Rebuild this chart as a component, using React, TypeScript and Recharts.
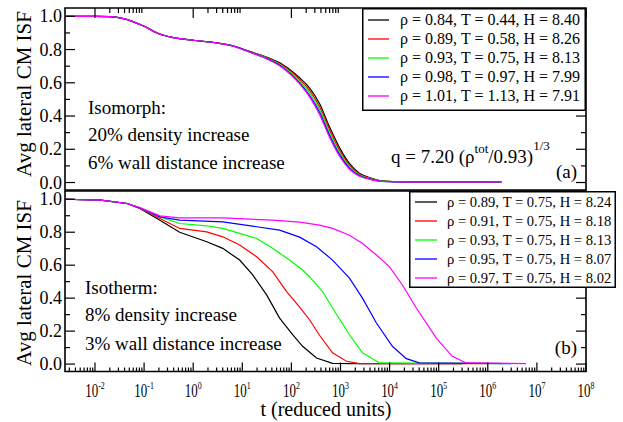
import React from 'react';
import { LineChart, Line, XAxis, YAxis, ReferenceArea, Legend } from 'recharts';

const FONT = '"Liberation Serif", "Times New Roman", serif';
const COLORS = ['#000000', '#ff0000', '#00ff00', '#0000ff', '#ff00ff'];

// (a) isomorph runs, one shared time grid
const isoLabels = [
  'ρ = 0.84, T = 0.44, H = 8.40',
  'ρ = 0.89, T = 0.58, H = 8.26',
  'ρ = 0.93, T = 0.75, H = 8.13',
  'ρ = 0.98, T = 0.97, H = 7.99',
  'ρ = 1.01, T = 1.13, H = 7.91',
];
const isoT = [0.00245, 0.01, 0.02, 0.04, 0.1, 0.2, 0.4, 1, 3, 6.4, 14, 31, 66, 147, 234, 374, 597, 955, 1520, 2430, 3880, 7100, 2e4, 1e5, 1.9e6];
const iso084 = [1.0, 1.0, 0.998, 0.985, 0.94, 0.895, 0.872, 0.856, 0.84, 0.823, 0.789, 0.755, 0.71, 0.63, 0.57, 0.475, 0.335, 0.21, 0.115, 0.056, 0.03, 0.01, 0.004, 0.003, 0.003];
const iso089 = [1.0, 1.0, 0.998, 0.985, 0.94, 0.895, 0.872, 0.856, 0.84, 0.822, 0.788, 0.752, 0.705, 0.62, 0.555, 0.457, 0.318, 0.195, 0.105, 0.051, 0.027, 0.009, 0.004, 0.003, 0.003];
const iso093 = [1.0, 1.0, 0.998, 0.985, 0.94, 0.895, 0.872, 0.856, 0.841, 0.823, 0.787, 0.75, 0.7, 0.61, 0.54, 0.44, 0.3, 0.18, 0.095, 0.046, 0.025, 0.008, 0.004, 0.003, 0.003];
const iso098 = [1.0, 1.0, 0.998, 0.985, 0.94, 0.895, 0.872, 0.856, 0.84, 0.822, 0.786, 0.747, 0.694, 0.6, 0.525, 0.423, 0.285, 0.168, 0.087, 0.042, 0.022, 0.007, 0.004, 0.003, 0.003];
const iso101 = [1.0, 1.0, 0.998, 0.985, 0.94, 0.895, 0.872, 0.856, 0.84, 0.821, 0.785, 0.745, 0.69, 0.593, 0.515, 0.41, 0.272, 0.158, 0.08, 0.038, 0.02, 0.006, 0.004, 0.003, 0.003];

// (b) isotherm runs, each with its own time grid
const isthLabels = [
  'ρ = 0.89, T = 0.75, H = 8.24',
  'ρ = 0.91, T = 0.75, H = 8.18',
  'ρ = 0.93, T = 0.75, H = 8.13',
  'ρ = 0.95, T = 0.75, H = 8.07',
  'ρ = 0.97, T = 0.75, H = 8.02',
];
const isth089T = [0.00245, 0.013, 0.045, 0.082, 0.21, 0.53, 1.89, 4.0, 8.85, 16.3, 31.3, 57.5, 106, 169, 325, 688, 2000, 3e5];
const isth089V = [1.0, 0.995, 0.974, 0.944, 0.873, 0.8, 0.742, 0.702, 0.631, 0.541, 0.42, 0.279, 0.178, 0.108, 0.037, 0.004, 0.003, 0.003];
const isth091T = [0.00245, 0.013, 0.045, 0.082, 0.21, 0.53, 1.89, 4.0, 8.85, 19.6, 41.5, 80, 147, 234, 374, 688, 1324, 2430, 1e6];
const isth091V = [1.0, 0.995, 0.974, 0.946, 0.883, 0.823, 0.802, 0.772, 0.722, 0.651, 0.561, 0.44, 0.345, 0.269, 0.175, 0.068, 0.017, 0.003, 0.003];
const isth093T = [0.00245, 0.013, 0.045, 0.082, 0.21, 0.53, 1.89, 4.0, 8.85, 19.6, 41.5, 92, 169, 234, 431, 688, 1524, 2800, 6210, 2e6];
const isth093V = [1.0, 0.995, 0.974, 0.947, 0.893, 0.853, 0.839, 0.823, 0.793, 0.762, 0.702, 0.631, 0.571, 0.53, 0.44, 0.34, 0.178, 0.068, 0.007, 0.003];
const isth095T = [0.00245, 0.013, 0.045, 0.082, 0.21, 0.53, 4.0, 19.6, 57.5, 147, 325, 688, 1524, 2800, 5395, 11400, 21900, 40400, 3e6];
const isth095V = [1.0, 0.995, 0.974, 0.948, 0.893, 0.873, 0.863, 0.833, 0.813, 0.77, 0.712, 0.631, 0.521, 0.4, 0.249, 0.108, 0.033, 0.007, 0.003];
const isth097T = [0.00245, 0.013, 0.045, 0.082, 0.21, 0.53, 4.0, 41.5, 147, 374, 688, 1524, 2800, 5395, 9900, 18200, 35100, 89300, 189000, 364000, 6e6];
const isth097V = [1.0, 0.995, 0.974, 0.949, 0.899, 0.887, 0.887, 0.873, 0.861, 0.843, 0.823, 0.782, 0.732, 0.662, 0.591, 0.48, 0.34, 0.158, 0.047, 0.007, 0.003];

const yTickValues = [0, 0.1, 0.2, 0.3, 0.4, 0.5, 0.6, 0.7, 0.8, 0.9, 1.0];
const topMajorDecades = [-2, 0, 2, 4, 6, 8];
const bottomMajorDecades = [-2, -1, 0, 1, 2, 3, 4, 5, 6, 7, 8];

const X_MIN = 0.00245;
const X_MAX = 1e8;
const Y_MIN = -0.045;
const Y_MAX = 1.05;

// plot boxes (page pixels)
const LEFT = 65;
const RIGHT = 586;
const A_TOP = 8;
const A_BOTTOM = 190;
const B_TOP = 191;
const B_BOTTOM = 371.5;

const zip = (t: number[], v: number[]) => t.map((x, i) => ({ t: x, v: v[i] }));
const isoSeries = [iso084, iso089, iso093, iso098, iso101].map((v) => zip(isoT, v));
const isthSeries = [
  zip(isth089T, isth089V),
  zip(isth091T, isth091V),
  zip(isth093T, isth093V),
  zip(isth095T, isth095V),
  zip(isth097T, isth097V),
];

const topTicks: number[] = [];
topMajorDecades.forEach((d) => {
  topTicks.push(Math.pow(10, d));
  if (d < 8) for (let k = 2; k <= 9; k++) topTicks.push(k * Math.pow(10, d));
});
const bottomTicks: number[] = [];
[-3, ...bottomMajorDecades].forEach((d) => {
  if (d > -3) bottomTicks.push(Math.pow(10, d));
  if (d < 8) for (let k = 2; k <= 9; k++) if (k * Math.pow(10, d) >= X_MIN) bottomTicks.push(k * Math.pow(10, d));
});

const isMajor = (v: number) => {
  const e = Math.log10(v);
  return Math.abs(e - Math.round(e)) < 1e-6;
};

const TopXTick = (props: any) => {
  const { x, payload } = props;
  const len = isMajor(payload.value) ? 10 : 5;
  return <line x1={x} x2={x} y1={A_TOP} y2={A_TOP + len} stroke="#000" strokeWidth={1.2} />;
};

const BottomXTick = (props: any) => {
  const { x, payload } = props;
  const major = isMajor(payload.value);
  const e = Math.round(Math.log10(payload.value));
  return (
    <g>
      <line x1={x} x2={x} y1={B_BOTTOM} y2={B_BOTTOM - (major ? 9 : 4)} stroke="#000" strokeWidth={1.2} />
      {major && (
        <text
          transform={`translate(${x},396.5) scale(0.72,1)`}
          textAnchor="middle"
          fontFamily={FONT}
          fontSize={18}
          fill="#000"
        >
          10
          <tspan fontSize={11} dy={-8}>
            {String(e)}
          </tspan>
        </text>
      )}
    </g>
  );
};

const YTick = (props: any) => {
  const { y, payload } = props;
  const v = payload.value;
  const major = Math.round(v * 10) % 2 === 0;
  const len = major ? 10 : 5;
  return (
    <g>
      <line x1={LEFT} x2={LEFT + len} y1={y} y2={y} stroke="#000" strokeWidth={1.2} />
      <line x1={RIGHT - len} x2={RIGHT} y1={y} y2={y} stroke="#000" strokeWidth={1.2} />
      {major && (
        <text x={62} y={y + 6} textAnchor="end" fontFamily={FONT} fontSize={18} fill="#000">
          {v.toFixed(1)}
        </text>
      )}
    </g>
  );
};

interface BoxProps {
  labels: string[];
  width: number;
  height: number;
  fontSize: number;
  rowY0: number;
  lineX2: number;
  textX: number;
}

const LegendBox: React.FC<BoxProps> = ({ labels, width, height, fontSize, rowY0, lineX2, textX }) => (
  <svg width={width} height={height} style={{ display: 'block' }}>
    <rect x={0.75} y={0.75} width={width - 1.5} height={height - 1.5} fill="#fff" stroke="#000" strokeWidth={1.5} />
    {labels.map((lab, i) => {
      const yy = rowY0 + i * 19;
      return (
        <g key={lab}>
          <line x1={6} x2={lineX2} y1={yy} y2={yy} stroke={COLORS[i]} strokeWidth={1.3} />
          <text x={textX} y={yy + fontSize * 0.33} fontFamily={FONT} fontSize={fontSize} fill="#000">
            {lab}
          </text>
        </g>
      );
    })}
  </svg>
);

const Panel = ({
  series,
  top,
  bottom,
  isTop,
  labels,
}: {
  series: { t: number; v: number }[][];
  top: number;
  bottom: number;
  isTop: boolean;
  labels: string[];
}) => (
  <div style={{ position: 'absolute', left: 0, top: 0 }}>
    {/* axes are 1px wide/tall so they still draw; margins absorb that pixel */}
    <LineChart width={623} height={422} margin={{ top, bottom: 422 - bottom - 1, left: LEFT - 1, right: 623 - RIGHT }}>
      <XAxis
        type="number"
        dataKey="t"
        scale="log"
        domain={[X_MIN, X_MAX]}
        allowDataOverflow
        ticks={isTop ? topTicks : bottomTicks}
        interval={0}
        height={1}
        axisLine={false}
        tickLine={false}
        tick={(p: any) => (isTop ? <TopXTick {...p} /> : <BottomXTick {...p} />)}
      />
      <YAxis
        type="number"
        domain={[Y_MIN, Y_MAX]}
        allowDataOverflow
        ticks={yTickValues}
        interval={0}
        width={1}
        axisLine={false}
        tickLine={false}
        tick={(p: any) => <YTick {...p} />}
      />
      <ReferenceArea x1={X_MIN} x2={X_MAX} y1={Y_MIN} y2={Y_MAX} fill="none" stroke="#000" strokeWidth={1.6} />
      {series.map((d, i) => (
        <Line
          key={labels[i]}
          data={d}
          dataKey="v"
          name={labels[i]}
          type={isTop ? 'monotone' : 'linear'}
          stroke={COLORS[i]}
          strokeWidth={1.2}
          dot={false}
          isAnimationActive={false}
        />
      ))}
      <Legend
        layout="horizontal"
        verticalAlign="middle"
        align="center"
        wrapperStyle={
          isTop
            ? { left: 362, top: 8, width: 224, height: 103 }
            : { left: 409, top: 191, width: 207, height: 97 }
        }
        content={() =>
          isTop ? (
            <LegendBox labels={labels} width={224} height={103} fontSize={16} rowY0={12} lineX2={27} textX={38} />
          ) : (
            <LegendBox labels={labels} width={207} height={97} fontSize={14.6} rowY0={11} lineX2={28} textX={38} />
          )
        }
      />
    </LineChart>
  </div>
);

const Annotations = () => (
  <svg
    width={623}
    height={422}
    style={{ position: 'absolute', left: 0, top: 0, pointerEvents: 'none', fontFamily: FONT }}
    fill="#000"
  >
    <text transform="translate(31,94) rotate(-90)" textAnchor="middle" fontSize={21}>
      Avg lateral CM ISF
    </text>
    <text transform="translate(31,283) rotate(-90)" textAnchor="middle" fontSize={21}>
      Avg lateral CM ISF
    </text>
    <text x={88} y={114} fontSize={19}>Isomorph:</text>
    <text x={88} y={141} fontSize={19}>20% density increase</text>
    <text x={88} y={169} fontSize={19}>6% wall distance increase</text>
    <text x={391} y={163} fontSize={19}>
      q = 7.20 (ρ
      <tspan fontSize={13} dy={-10}>tot</tspan>
      <tspan dy={10}>/0.93)</tspan>
      <tspan fontSize={13} dy={-13}>1/3</tspan>
    </text>
    <text x={577} y={178} textAnchor="end" fontSize={19}>(a)</text>
    <text x={85} y={294} fontSize={19}>Isotherm:</text>
    <text x={85} y={321} fontSize={19}>8% density increase</text>
    <text x={85} y={349.5} fontSize={19}>3% wall distance increase</text>
    <text x={577} y={354} textAnchor="end" fontSize={19}>(b)</text>
    <text x={326} y={416} textAnchor="middle" fontSize={20}>t (reduced units)</text>
  </svg>
);

export default function App() {
  return (
    <div style={{ position: 'absolute', left: 0, top: 0, width: 623, height: 422, background: '#fff', overflow: 'hidden' }}>
      <Panel series={isoSeries} top={A_TOP} bottom={A_BOTTOM} isTop labels={isoLabels} />
      <Panel series={isthSeries} top={B_TOP} bottom={B_BOTTOM} isTop={false} labels={isthLabels} />
      <Annotations />
    </div>
  );
}
